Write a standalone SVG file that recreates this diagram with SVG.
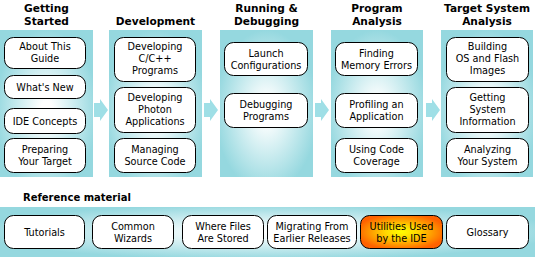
<svg xmlns="http://www.w3.org/2000/svg" width="535" height="258" viewBox="0 0 535 258">
<defs>
<radialGradient id="pg" cx="50%" cy="55%" r="55%">
<stop offset="0" stop-color="#ffffff"/>
<stop offset="0.12" stop-color="#ffffff"/>
<stop offset="1" stop-color="#95d8df"/>
</radialGradient>
<radialGradient id="bg" cx="50%" cy="50%" r="55%">
<stop offset="0" stop-color="#ffffff"/>
<stop offset="0.2" stop-color="#f4fbfc"/>
<stop offset="1" stop-color="#95d8df"/>
</radialGradient>
<radialGradient id="og" cx="50%" cy="50%" r="55%">
<stop offset="0" stop-color="#ffff00"/>
<stop offset="0.35" stop-color="#ffd800"/>
<stop offset="1" stop-color="#ff6200"/>
</radialGradient>
<path id="arr" d="M0,-7 H6 V-11 L14,0 L6,11 V7 H0 Z"/>
</defs>
<style>
.panel{fill:url(#pg)}
.band{fill:url(#bg)}
.node rect{fill:#ffffff;stroke:#000000;stroke-width:1}
.node.hl rect{fill:url(#og)}
.node text{font-family:"DejaVu Sans",Verdana,sans-serif;font-size:9.7px;fill:#000000;text-anchor:middle}
.head{font-family:"DejaVu Sans",Verdana,sans-serif;font-size:10.6px;font-weight:bold;fill:#000000;text-anchor:middle}
.arrow{fill:#9fdfe6}
</style>

<g id="panels">
<rect class="panel" x="0" y="30" width="93" height="147"/>
<rect class="panel" x="109" y="30" width="93" height="147"/>
<rect class="panel" x="220" y="30" width="93" height="147"/>
<rect class="panel" x="331" y="30" width="92" height="147"/>
<rect class="panel" x="441" y="30" width="92" height="147"/>
<rect class="band" x="0" y="207" width="535" height="50"/>
</g>

<g id="headings">
<text class="head" x="46.5" y="12">Getting</text>
<text class="head" x="46.5" y="25">Started</text>
<text class="head" x="155.5" y="25">Development</text>
<text class="head" x="266.5" y="12">Running &amp;</text>
<text class="head" x="266.5" y="25">Debugging</text>
<text class="head" x="377" y="12">Program</text>
<text class="head" x="377" y="25">Analysis</text>
<text class="head" x="487" y="12">Target System</text>
<text class="head" x="487" y="25">Analysis</text>
<text class="head" x="23" y="201" style="text-anchor:start;font-size:10px">Reference material</text>
</g>

<g id="connectors">
<use class="arrow" href="#arr" x="94" y="110"/>
<use class="arrow" href="#arr" x="204" y="110"/>
<use class="arrow" href="#arr" x="315" y="110"/>
<use class="arrow" href="#arr" x="426" y="110"/>
</g>

<g id="n-about" class="node"><rect x="4.5" y="37.5" width="81" height="31" rx="9"/><text x="45" y="50">About This</text><text x="45" y="62">Guide</text></g>
<g id="n-whatsnew" class="node"><rect x="4.5" y="75.5" width="81" height="23" rx="9"/><text x="45" y="90.5">What's New</text></g>
<g id="n-ideconcepts" class="node"><rect x="4.5" y="108.5" width="81" height="25" rx="9"/><text x="45" y="124.5">IDE Concepts</text></g>
<g id="n-preparing" class="node"><rect x="4.5" y="138.5" width="81" height="34" rx="9"/><text x="45" y="153">Preparing</text><text x="45" y="165">Your Target</text></g>

<g id="n-devcpp" class="node"><rect x="114.5" y="37.5" width="81" height="44" rx="9"/><text x="155" y="50">Developing</text><text x="155" y="62">C/C++</text><text x="155" y="74">Programs</text></g>
<g id="n-devphoton" class="node"><rect x="114.5" y="87.5" width="81" height="45" rx="9"/><text x="155" y="101">Developing</text><text x="155" y="113">Photon</text><text x="155" y="125">Applications</text></g>
<g id="n-managing" class="node"><rect x="114.5" y="138.5" width="81" height="34" rx="9"/><text x="155" y="153">Managing</text><text x="155" y="165">Source Code</text></g>

<g id="n-launch" class="node"><rect x="224.5" y="42.5" width="83" height="33" rx="9"/><text x="266" y="56.5">Launch</text><text x="266" y="68.5">Configurations</text></g>
<g id="n-debugging" class="node"><rect x="224.5" y="93.5" width="83" height="34" rx="9"/><text x="266" y="108">Debugging</text><text x="266" y="120">Programs</text></g>

<g id="n-memory" class="node"><rect x="335.5" y="42.5" width="82" height="33" rx="9"/><text x="376.5" y="56.5">Finding</text><text x="376.5" y="68.5">Memory Errors</text></g>
<g id="n-profiling" class="node"><rect x="335.5" y="93.5" width="82" height="34" rx="9"/><text x="376.5" y="108">Profiling an</text><text x="376.5" y="120">Application</text></g>
<g id="n-coverage" class="node"><rect x="335.5" y="138.5" width="82" height="34" rx="9"/><text x="376.5" y="153">Using Code</text><text x="376.5" y="165">Coverage</text></g>

<g id="n-building" class="node"><rect x="446.5" y="37.5" width="82" height="44" rx="9"/><text x="487.5" y="50">Building</text><text x="487.5" y="62">OS and Flash</text><text x="487.5" y="74">Images</text></g>
<g id="n-sysinfo" class="node"><rect x="446.5" y="87.5" width="82" height="45" rx="9"/><text x="487.5" y="101">Getting</text><text x="487.5" y="113">System</text><text x="487.5" y="125">Information</text></g>
<g id="n-analyzing" class="node"><rect x="446.5" y="138.5" width="82" height="34" rx="9"/><text x="487.5" y="153">Analyzing</text><text x="487.5" y="165">Your System</text></g>

<g id="n-tutorials" class="node"><rect x="4.5" y="215.5" width="80" height="33" rx="9"/><text x="44.5" y="235.5">Tutorials</text></g>
<g id="n-wizards" class="node"><rect x="92.5" y="215.5" width="81" height="33" rx="9"/><text x="133" y="229.5">Common</text><text x="133" y="241.5">Wizards</text></g>
<g id="n-files" class="node"><rect x="182.5" y="215.5" width="81" height="33" rx="9"/><text x="223" y="229.5">Where Files</text><text x="223" y="241.5">Are Stored</text></g>
<g id="n-migrating" class="node"><rect x="267.5" y="215.5" width="89" height="33" rx="9"/><text x="312" y="229.5">Migrating From</text><text x="312" y="241.5">Earlier Releases</text></g>
<g id="n-utilities" class="node hl"><rect x="360.5" y="215.5" width="82" height="33" rx="9"/><text x="401.5" y="229.5">Utilities Used</text><text x="401.5" y="241.5">by the IDE</text></g>
<g id="n-glossary" class="node"><rect x="446.5" y="215.5" width="82" height="33" rx="9"/><text x="487.5" y="235.5">Glossary</text></g>
</svg>
